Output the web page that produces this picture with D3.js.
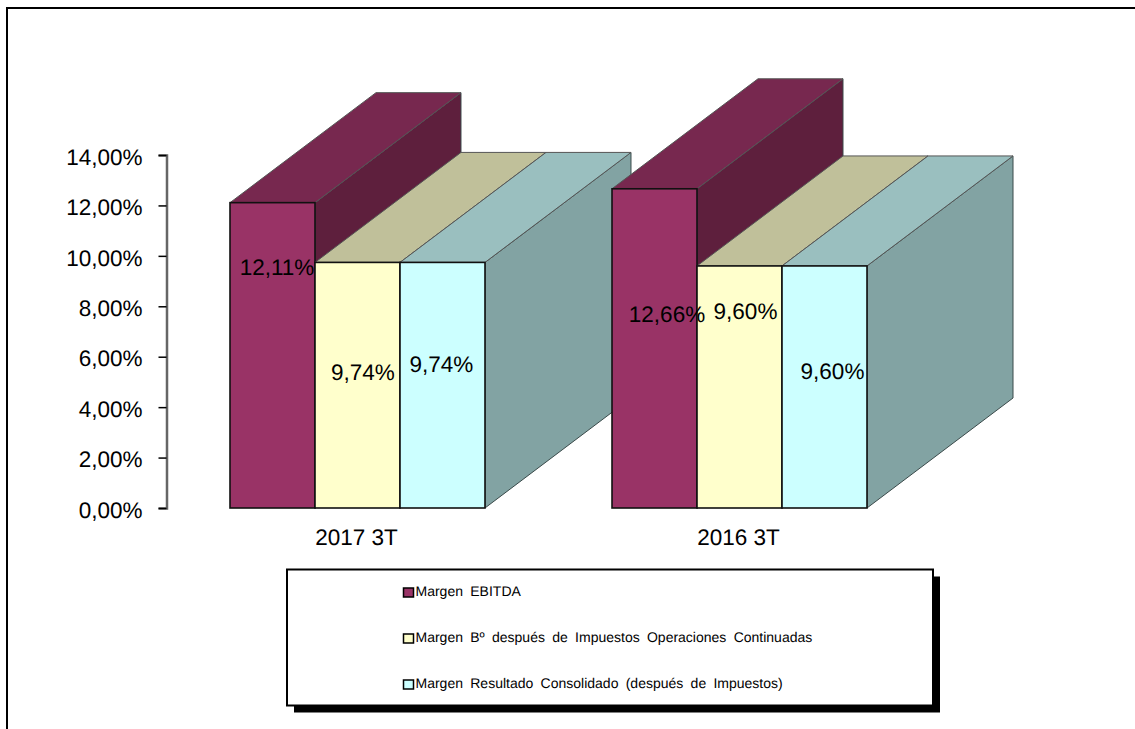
<!DOCTYPE html>
<html lang="es">
<head>
<meta charset="utf-8">
<script src="https://cdn.jsdelivr.net/npm/d3@7/dist/d3.min.js"></script>
<style>
html,body{margin:0;padding:0;background:#fff;overflow:hidden}
svg{display:block}
text{font-family:"Liberation Sans",Arial,sans-serif;fill:#000;text-rendering:geometricPrecision}
</style>
</head>
<body>
<div id="chart"></div>
<script>
// ---- data ----
const categories = ["2017 3T", "2016 3T"];
const seriesNames = [
  "Margen EBITDA",
  "Margen Bº después de Impuestos Operaciones Continuadas",
  "Margen Resultado Consolidado (después de Impuestos)"
];
const margenEbitda = [12.11, 12.66];
const margenDespuesImpuestos = [9.74, 9.60];
const margenResultado = [9.74, 9.60];
const yTicks = [0, 2, 4, 6, 8, 10, 12, 14];

// ---- layout and style ----
const width = 1135, height = 729;
const depth = {dx: 146, dy: -110};
const palette = [
  {front: "#993366", top: "#77284F", side: "#5E1F3D"},
  {front: "#FFFFCC", top: "#C0C09A", side: "#9A9A7C"},
  {front: "#CCFFFF", top: "#9ABFBF", side: "#82A3A3"}
];
// hand-placed data label offsets from each bar's front centre, [dx, dy from the baseline]
const labelOffsets = [
  [[4.5, -239], [5.5, -134], [-1, -142]],
  [[12.5, -192], [6, -195], [8, -135]]
];

const values = [margenEbitda, margenDespuesImpuestos, margenResultado];

const svg = d3.select("#chart").append("svg").attr("width", width).attr("height", height);

// chart frame: open on the right and at the bottom
svg.append("path")
  .attr("d", d3.line()([[7, height], [7, 8], [width, 8]]))
  .attr("fill", "none").attr("stroke", "#000").attr("stroke-width", 2);

const y = d3.scaleLinear().domain([0, 14]).range([508, 155]);
const x0 = d3.scaleBand().domain(categories).range([230, 867]).paddingInner(0.3325).paddingOuter(0);
const x1 = d3.scaleBand().domain(d3.range(seriesNames.length)).range([0, x0.bandwidth()]);

// value axis
const axis = d3.axisLeft(y)
  .tickValues(yTicks)
  .tickSize(8)
  .tickPadding(16)
  .tickFormat(d => d3.format(".2f")(d).replace(".", ",") + "%");
const axisG = svg.append("g").attr("transform", "translate(166.5,0)").call(axis);
axisG.select(".domain").attr("stroke", "#666").attr("stroke-width", 2.5);
axisG.selectAll(".tick line").attr("stroke", "#000").attr("stroke-width", 1.5);
axisG.selectAll(".tick text")
  .attr("font-size", 22.5).attr("font-family", '"Liberation Sans",Arial,sans-serif')
  .attr("fill", "#000").attr("y", 2);

// 3D bars: back-to-front painting, one cuboid per value
const poly = d3.line();
categories.forEach((cat, ci) => {
  const g = svg.append("g").attr("class", "group");
  seriesNames.forEach((name, si) => {
    const v = values[si][ci];
    const l = x0(cat) + x1(si), r = l + x1.bandwidth();
    const t = y(v), b = y(0);
    const c = palette[si];
    const bar = g.append("g").attr("class", "bar");
    bar.append("path")
      .attr("d", poly([[r, t], [r + depth.dx, t + depth.dy], [r + depth.dx, b + depth.dy], [r, b]]) + "Z")
      .attr("fill", c.side).attr("stroke", "#3a4a4a").attr("stroke-width", 1);
    bar.append("path")
      .attr("d", poly([[l, t], [l + depth.dx, t + depth.dy], [r + depth.dx, t + depth.dy], [r, t]]) + "Z")
      .attr("fill", c.top).attr("stroke", "#555").attr("stroke-width", 1);
    bar.append("rect")
      .attr("x", l).attr("y", t).attr("width", x1.bandwidth()).attr("height", b - t)
      .attr("fill", c.front).attr("stroke", "#111").attr("stroke-width", 1.6);
  });
});

// data labels above all bars
categories.forEach((cat, ci) => {
  seriesNames.forEach((name, si) => {
    const cx = x0(cat) + x1(si) + x1.bandwidth() / 2;
    const off = labelOffsets[ci][si];
    svg.append("text")
      .attr("x", cx + off[0]).attr("y", y(0) + off[1])
      .attr("text-anchor", "middle").attr("dominant-baseline", "middle")
      .attr("font-size", 22.5)
      .text(d3.format(".2f")(values[si][ci]).replace(".", ",") + "%");
  });
});

// category labels
svg.selectAll("text.cat").data(categories).join("text").attr("class", "cat")
  .attr("x", d => x0(d) + x0.bandwidth() / 2 - 1)
  .attr("y", 545)
  .attr("text-anchor", "middle")
  .attr("font-size", 22.5)
  .text(d => d);

// legend box with drop shadow
const legend = {x: 287, y: 569.5, w: 646, h: 136, shadow: 7};
svg.append("rect").attr("x", legend.x + legend.shadow).attr("y", legend.y + legend.shadow)
  .attr("width", legend.w).attr("height", legend.h).attr("fill", "#000");
svg.append("rect").attr("x", legend.x).attr("y", legend.y)
  .attr("width", legend.w).attr("height", legend.h).attr("fill", "#fff").attr("stroke", "#000").attr("stroke-width", 2);

const legendY = d3.scalePoint().domain(d3.range(seriesNames.length)).range([592.5, 684.5]);
const legendItems = svg.selectAll("g.legend-item").data(seriesNames).join("g").attr("class", "legend-item")
  .attr("transform", (d, i) => `translate(403.5,${legendY(i)})`);
legendItems.append("rect")
  .attr("x", 0).attr("y", -4.5).attr("width", 10).attr("height", 9)
  .attr("fill", (d, i) => palette[i].front).attr("stroke", "#000").attr("stroke-width", 1.5);
legendItems.append("text")
  .attr("x", 12).attr("y", 0).attr("dominant-baseline", "middle")
  .attr("font-size", 14).attr("word-spacing", 3.4)
  .text(d => d);
</script>
</body>
</html>
